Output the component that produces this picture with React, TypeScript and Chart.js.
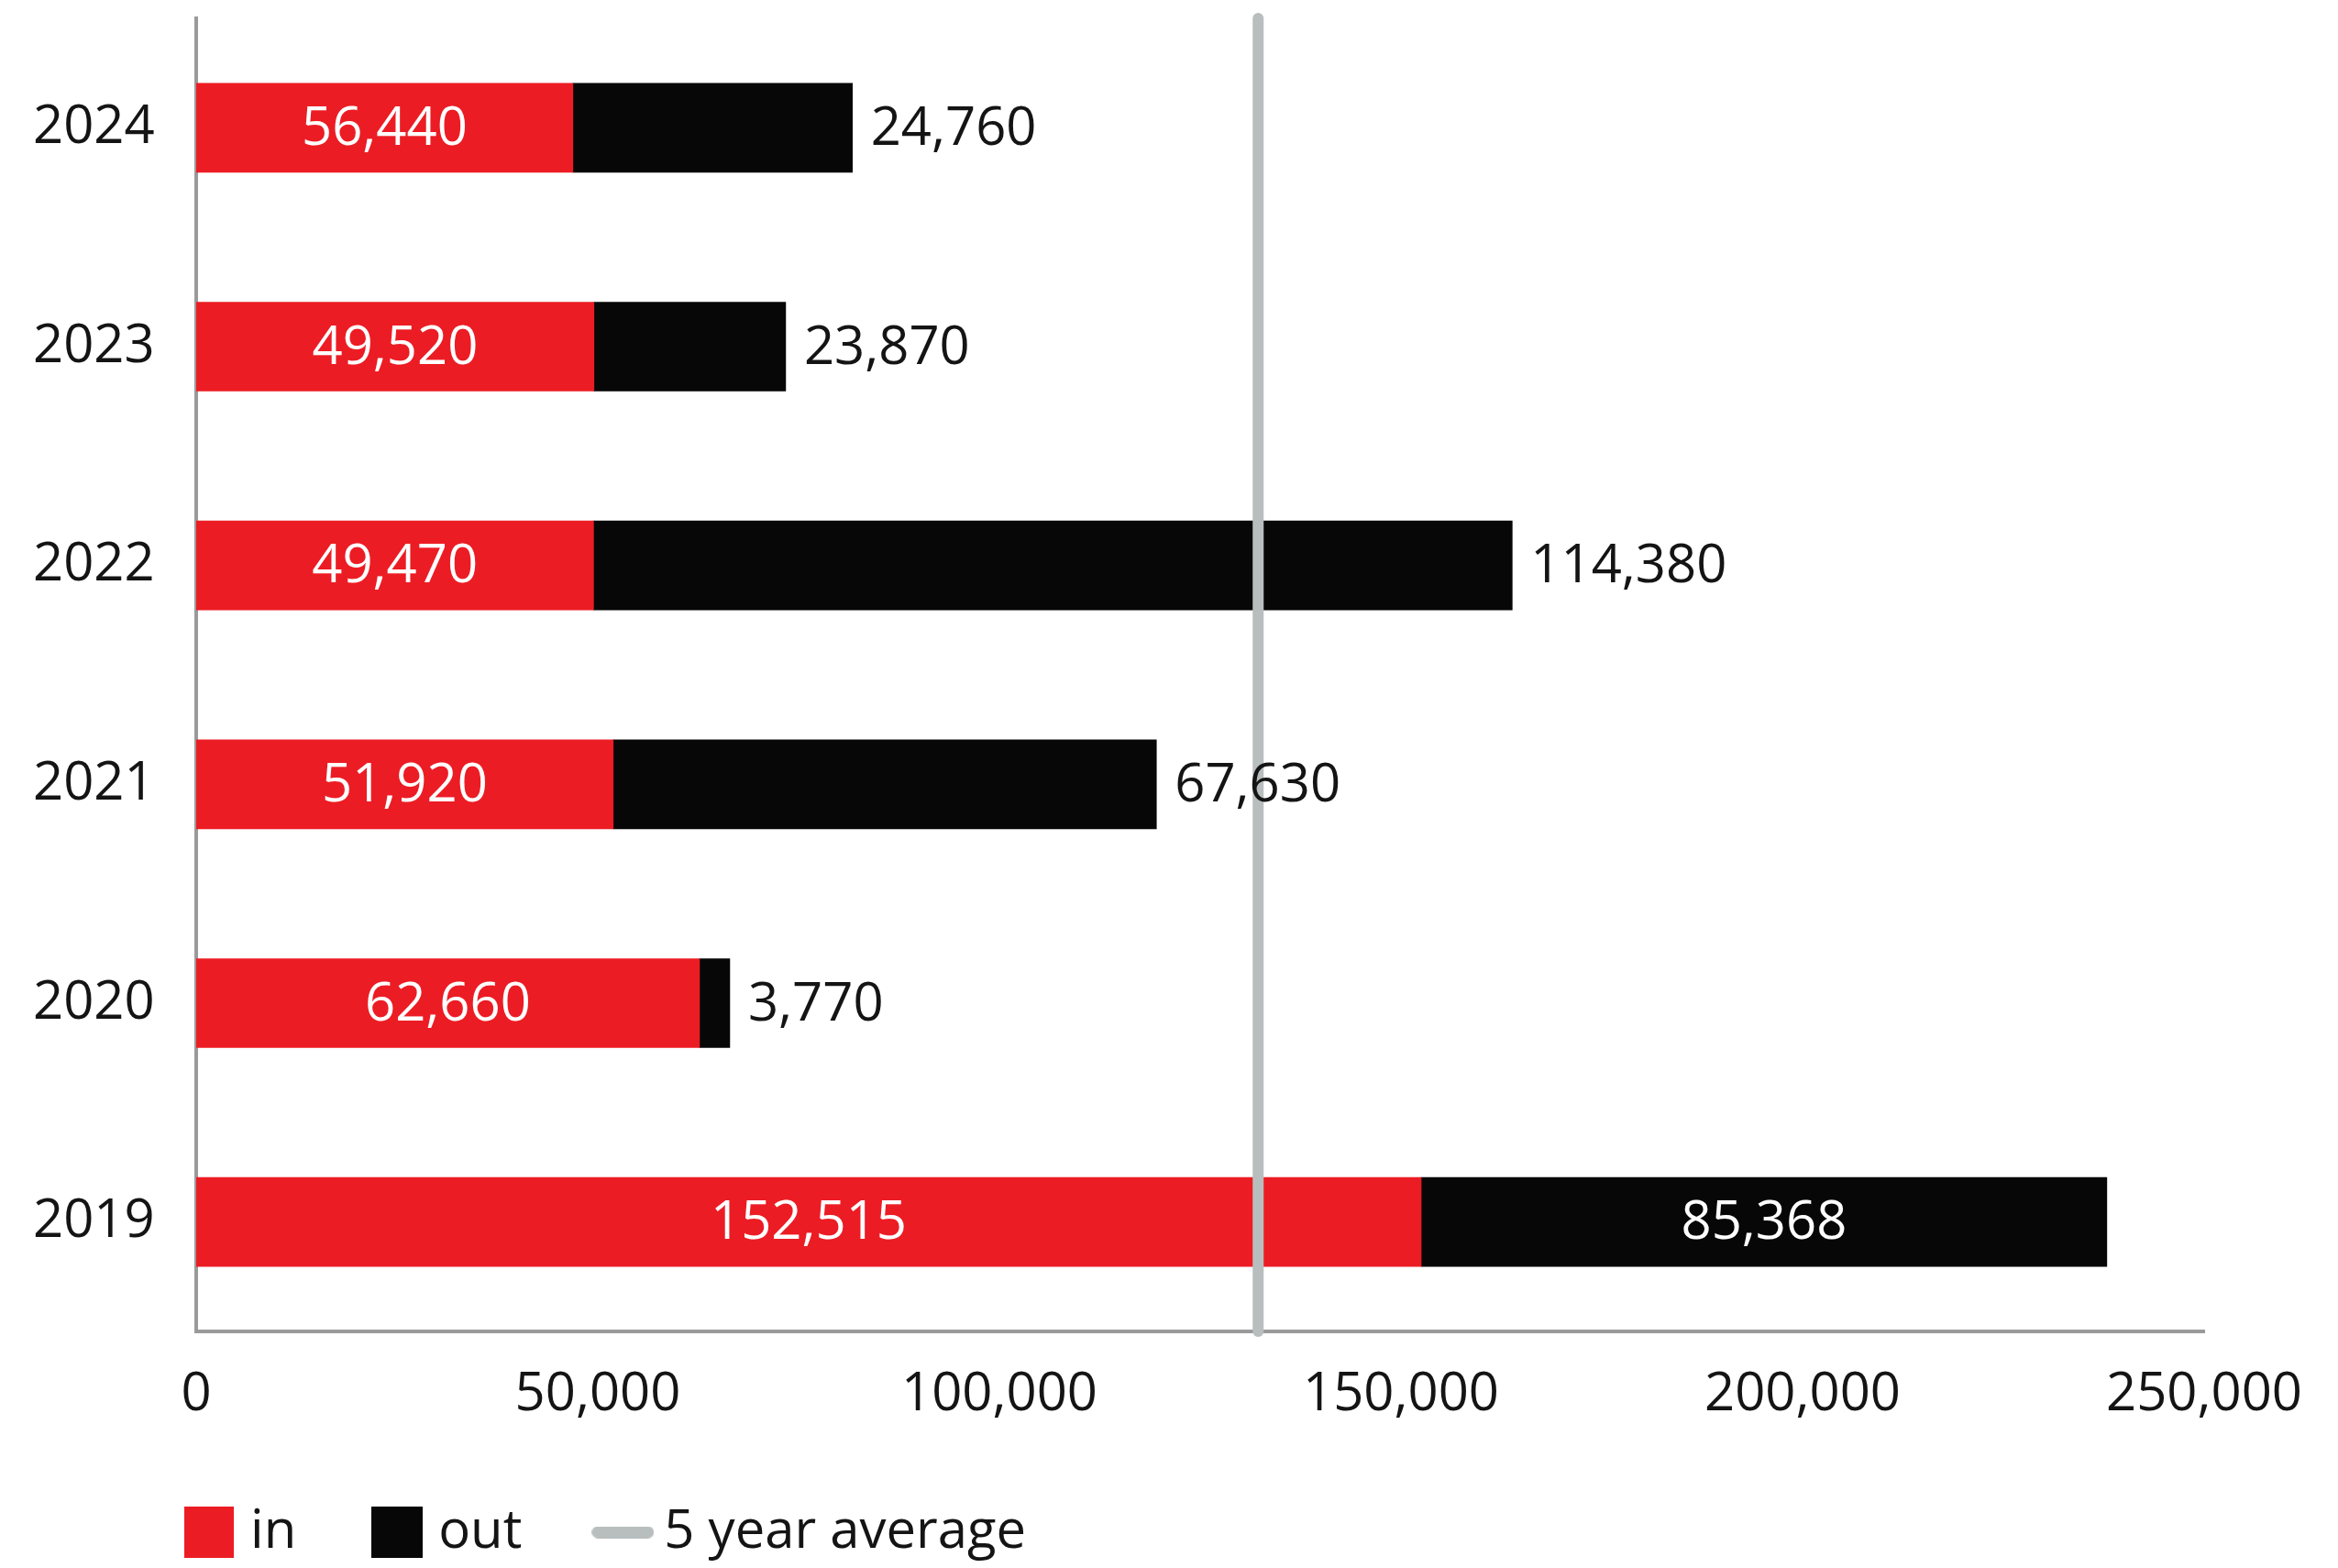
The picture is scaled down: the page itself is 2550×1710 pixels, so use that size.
import React, { useEffect, useRef } from 'react';
import { Chart, registerables } from 'chart.js';

Chart.register(...registerables);

// ---- data ----
const years = ['2024', '2023', '2022', '2021', '2020', '2019'];
// bar lengths as drawn in the picture
const inValues = [46900, 49520, 49470, 51920, 62660, 152515];
const outValues = [34800, 23870, 114380, 67630, 3770, 85368];
// value labels as printed in the picture
const inLabels = ['56,440', '49,520', '49,470', '51,920', '62,660', '152,515'];
const outLabels = ['24,760', '23,870', '114,380', '67,630', '3,770', '85,368'];
const fiveYearAverage = 132220;
const xTickValues = [0, 50000, 100000, 150000, 200000, 250000];
const outLabelInside = [false, false, false, false, false, true];
const legendTexts = ['in', 'out', '5 year average'];

// ---- styles ----
const RED = '#EC1C24';
const BLACK = '#070707';
const AVG_GRAY = '#B8BEBD';
const AXIS_GRAY = '#9a9a9a';
const TEXT = '#141414';
const FONT_FAMILY = "'Open Sans', sans-serif";
const FONT_SIZE = 58;

const fmt = (v: number) => Number(v).toLocaleString('en-US');

function makeRectMarker(color: string, w: number, h: number) {
  const c = document.createElement('canvas');
  c.width = w;
  c.height = h;
  const g = c.getContext('2d')!;
  g.fillStyle = color;
  g.fillRect(0, 0, w, h);
  return c;
}

function makeLineMarker(color: string, w: number, h: number) {
  const c = document.createElement('canvas');
  c.width = w;
  c.height = h;
  const g = c.getContext('2d')!;
  g.strokeStyle = color;
  g.lineWidth = h;
  g.lineCap = 'round';
  g.beginPath();
  g.moveTo(h / 2, h / 2);
  g.lineTo(w - h / 2, h / 2);
  g.stroke();
  return c;
}

const valueLabelsPlugin = {
  id: 'valueLabels',
  afterDatasetsDraw(chart: any) {
    const ctx = chart.ctx;
    ctx.save();
    ctx.font = `${FONT_SIZE}px ${FONT_FAMILY}`;
    ctx.textBaseline = 'middle';
    const inMeta = chart.getDatasetMeta(0);
    inMeta.data.forEach((bar: any, i: number) => {
      const { x, base, y } = bar.getProps(['x', 'base', 'y'], true);
      ctx.fillStyle = '#ffffff';
      ctx.textAlign = 'center';
      ctx.fillText(inLabels[i], (x + base) / 2, y + 2);
    });
    const outMeta = chart.getDatasetMeta(1);
    outMeta.data.forEach((bar: any, i: number) => {
      const { x, base, y } = bar.getProps(['x', 'base', 'y'], true);
      if (outLabelInside[i]) {
        ctx.fillStyle = '#ffffff';
        ctx.textAlign = 'center';
        ctx.fillText(outLabels[i], (x + base) / 2, y + 2);
      } else {
        ctx.fillStyle = TEXT;
        ctx.textAlign = 'left';
        ctx.fillText(outLabels[i], x + 20, y + 2);
      }
    });
    ctx.restore();
  },
};

export default function App() {
  const canvasRef = useRef<HTMLCanvasElement | null>(null);

  useEffect(() => {
    const canvas = canvasRef.current;
    if (!canvas) return;
    const markers = [
      makeRectMarker(RED, 54, 56),
      makeRectMarker(BLACK, 56, 56),
      makeLineMarker(AVG_GRAY, 68, 13),
    ];
    const markerColors = [RED, BLACK, AVG_GRAY];

    const chart = new Chart(canvas, {
      type: 'bar',
      data: {
        labels: years,
        datasets: [
          {
            label: 'in',
            data: inValues,
            backgroundColor: RED,
            borderWidth: 0,
            barThickness: 97,
            grouped: false,
            xAxisID: 'x',
            yAxisID: 'y',
            order: 1,
          },
          {
            label: 'out',
            data: outValues,
            backgroundColor: BLACK,
            borderWidth: 0,
            barThickness: 97,
            grouped: false,
            xAxisID: 'x',
            yAxisID: 'y',
            order: 1,
          },
          {
            type: 'line',
            label: '5 year average',
            data: [
              { x: fiveYearAverage, y: 0 },
              { x: fiveYearAverage, y: 1 },
            ],
            xAxisID: 'x',
            yAxisID: 'yAvg',
            borderColor: AVG_GRAY,
            borderWidth: 12,
            borderCapStyle: 'round',
            pointRadius: 0,
            fill: false,
            clip: false,
            order: 0,
          },
        ] as any,
      },
      options: {
        indexAxis: 'y',
        responsive: false,
        animation: false,
        devicePixelRatio: 1,
        layout: { padding: { left: 118, right: 146, top: 20, bottom: 0 } },
        font: { family: FONT_FAMILY },
        scales: {
          x: {
            type: 'linear',
            position: 'bottom',
            min: 0,
            max: 250000,
            stacked: true,
            afterBuildTicks: (scale: any) => {
              scale.ticks = xTickValues.map((v) => ({ value: v }));
            },
            afterFit: (scale: any) => {
              scale.height = 96;
            },
            ticks: {
              padding: 35,
              color: TEXT,
              font: { size: FONT_SIZE, family: FONT_FAMILY },
              maxRotation: 0,
              autoSkip: false,
              callback: (v: any) => fmt(v),
            },
            grid: { display: false, drawTicks: false },
            border: { display: true, color: AXIS_GRAY, width: 4 },
          },
          y: {
            type: 'category',
            position: 'left',
            stacked: true,
            afterFit: (scale: any) => {
              scale.width = 96;
              scale.paddingTop = 0;
              scale.paddingBottom = 0;
            },
            ticks: {
              mirror: true,
              crossAlign: 'near',
              padding: -178,
              color: TEXT,
              font: { size: FONT_SIZE, family: FONT_FAMILY },
            },
            grid: { display: false, drawTicks: false },
            border: { display: true, color: AXIS_GRAY, width: 4 },
          },
          yAvg: {
            type: 'linear',
            position: 'right',
            min: 0,
            max: 1,
            offset: false,
            display: false,
          },
        },
        plugins: {
          tooltip: { enabled: false },
          legend: {
            display: true,
            position: 'bottom',
            align: 'start',
            labels: {
              usePointStyle: true,
              boxWidth: 32,
              boxHeight: 32,
              padding: 94,
              color: TEXT,
              font: { size: FONT_SIZE, family: FONT_FAMILY },
              generateLabels: () =>
                legendTexts.map((t, i) => ({
                  text: t,
                  pointStyle: markers[i] as any,
                  fillStyle: markerColors[i],
                  strokeStyle: markerColors[i],
                  lineWidth: 0,
                  hidden: false,
                  fontColor: TEXT,
                })) as any,
            },
          },
        },
      } as any,
      plugins: [valueLabelsPlugin],
    });

    return () => {
      chart.destroy();
    };
  }, []);

  return (
    <div style={{ position: 'fixed', left: 0, top: 0, width: 2550, height: 1710, background: '#ffffff' }}>
      <canvas ref={canvasRef} width={2550} height={1710} style={{ display: 'block', width: 2550, height: 1710 }} />
    </div>
  );
}
